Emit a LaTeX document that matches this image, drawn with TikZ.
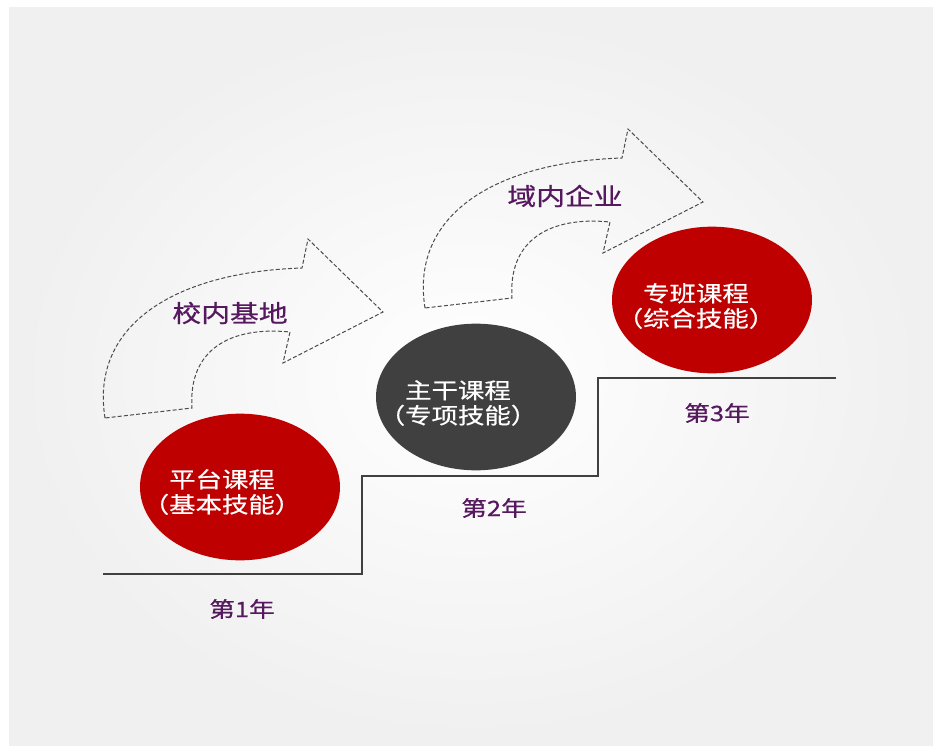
\documentclass[tikz,border=0pt]{standalone}
\usepackage{fontspec}
\usepackage{xcolor}
\usepackage{tikz}
\usetikzlibrary{shapes,arrows,positioning}

\newfontfamily\cjk[FakeStretch=1.2,FakeBold=0.6]{Noto Sans CJK SC}
\definecolor{deepred}{HTML}{BF0000}
\definecolor{darkball}{HTML}{404040}
\definecolor{plum}{HTML}{56185F}

\begin{document}
\begin{tikzpicture}[
    x=0.75pt, y=-0.75pt,
    course/.style={ellipse, minimum width=150pt, minimum height=110pt, inner sep=0pt},
    coursetext/.style={text=white, align=center, font=\cjk\fontsize{16.5}{18.75}\selectfont},
    base/.style={text=plum, font=\cjk\fontsize{18}{20}\selectfont},
    year/.style={text=plum, font=\cjk\fontsize{16}{18}\selectfont},
    stair/.style={draw=darkball, line width=1.5pt},
    arrowline/.style={draw=black!70, line width=0.75pt, dash pattern=on 3pt off 1.6pt, line join=miter},
    bentarrow/.pic={
        \draw[arrowline] (0,0) .. controls (-15,-93) and (70,-146) .. (197,-150)
            -- (203,-179) -- (278,-106) -- (178,-55) -- (185,-86)
            .. controls (125,-92) and (83,-68) .. (87,-10) -- cycle;
    }
]

% Background
\useasboundingbox (0,0) rectangle (933,746);
\fill[white] (0,0) rectangle (933,746);
\shade[inner color=white, outer color=black!6] (9,7) rectangle (933,746);

% Curved arrows
\pic at (105,418) {bentarrow};
\pic at (425,308) {bentarrow};
\node[base] (school) at (230,313) {校内基地};
\node[base] (firm) at (565,196) {域内企业};

% Stairs
\coordinate (s0) at (103,574);
\coordinate (s1) at (362,574);
\coordinate (s2) at (362,476);
\coordinate (s3) at (598,476);
\coordinate (s4) at (598,378);
\coordinate (s5) at (836,378);
\draw[stair] (s0) -- (s1) -- (s2) -- (s3) -- (s4) -- (s5);

% Courses
\node[course, fill=deepred] (c1) at (240,487) {};
\node[course, fill=darkball] (c2) at (476,397) {};
\node[course, fill=deepred] (c3) at (712,300) {};
\node[coursetext] (t1) at ([shift={(-18,5)}]c1.center) {平台课程\\（基本技能）};
\node[coursetext] (t2) at ([shift={(-18,6)}]c2.center) {主干课程\\（专项技能）};
\node[coursetext] (t3) at ([shift={(-16,6)}]c3.center) {专班课程\\（综合技能）};

% Years
\node[year] (y1) at (242,609) {第1年};
\node[year] (y2) at (494,508) {第2年};
\node[year] (y3) at (717,413) {第3年};

\end{tikzpicture}
\end{document}
